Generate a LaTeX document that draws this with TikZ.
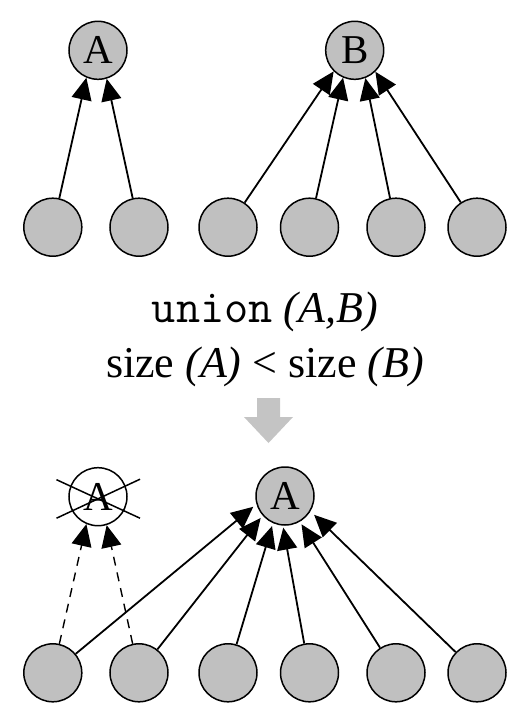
\documentclass[tikz,border=0pt]{standalone}
\usepackage{fontspec}
\setmainfont{Liberation Serif}
\usetikzlibrary{arrows.meta}
\definecolor{nodegray}{RGB}{192,192,192}
\definecolor{stepgray}{RGB}{196,196,196}
\tikzset{
	setnode/.style={circle, draw, line width=1.5pt, fill=nodegray, minimum size=58pt, inner sep=0pt, font=\fontsize{41}{48}\selectfont},
	deadnode/.style={setnode, fill=white},
	leaf/.style={setnode},
	link/.style={-{Triangle[length=22pt,width=20pt]}, line width=1.8pt},
	oldlink/.style={link, line width=1.4pt, dash pattern=on 9pt off 7pt},
	caption/.style={anchor=base, font=\fontsize{44}{52}\selectfont}
}

\begin{document}
\begin{tikzpicture}[x=1pt, y=-1pt]
				\useasboundingbox (0,0) rectangle (528,716);
				% before
				\node[setnode] (A) at (98,50.3) {A};
				\node[setnode] (B) at (354.7,50.3) {B};
				\node[leaf] (t1) at (52.8,227.2) {};
				\node[leaf] (t2) at (139,227.2) {};
				\node[leaf] (t3) at (228,227.2) {};
				\node[leaf] (t4) at (309.5,227.2) {};
				\node[leaf] (t5) at (396,227.2) {};
				\node[leaf] (t6) at (477,227.2) {};
				\draw[link] (t1) -- (A.247);
				\draw[link] (t2) -- (A.287);
				\draw[link] (t3) -- (B.225);
				\draw[link] (t4) -- (B.247);
				\draw[link] (t5) -- (B.291);
				\draw[link] (t6) -- (B.314);

				\node[caption] (op) at (265,322) {{\ttfamily\fontsize{47}{52}\selectfont union} \textit{(A,B)}};
				\node[caption] (cond) at (265,377) {size \textit{(A)} < size \textit{(B)}};
				\fill[stepgray] (257,398) -- (280,398) -- (280,417) -- (293,417) -- (268.5,443) -- (244,417) -- (257,417) -- cycle;

				% after
				\node[deadnode] (dead) at (98,496.7) {A};
				\draw[line width=1.5pt] ([shift={(-41.5,-17)}]dead.center) -- ([shift={(42,21.5)}]dead.center);
				\draw[line width=1.5pt] ([shift={(-41.5,21.5)}]dead.center) -- ([shift={(42,-17.5)}]dead.center);
				\node[setnode] (C) at (285,496) {A};
				\node[leaf] (b1) at (52.8,672.8) {};
				\node[leaf] (b2) at (139,672.8) {};
				\node[leaf] (b3) at (228,672.8) {};
				\node[leaf] (b4) at (309.5,672.8) {};
				\node[leaf] (b5) at (396,672.8) {};
				\node[leaf] (b6) at (477,672.8) {};
				\draw[oldlink] (b1) -- (dead.247);
				\draw[oldlink] (b2) -- (dead.287);
				\draw[link, shorten >=4pt] (b1) -- (C.196);
				\draw[link, shorten >=3pt] (b2) -- (C.221);
				\draw[link, shorten >=3pt] (b3) -- (C.246);
				\draw[link, shorten >=2pt] (b4) -- (C.266);
				\draw[link, shorten >=3pt] (b5) -- (C.300);
				\draw[link, shorten >=5pt] (b6) -- (C.329);
			\end{tikzpicture}
\end{document}
